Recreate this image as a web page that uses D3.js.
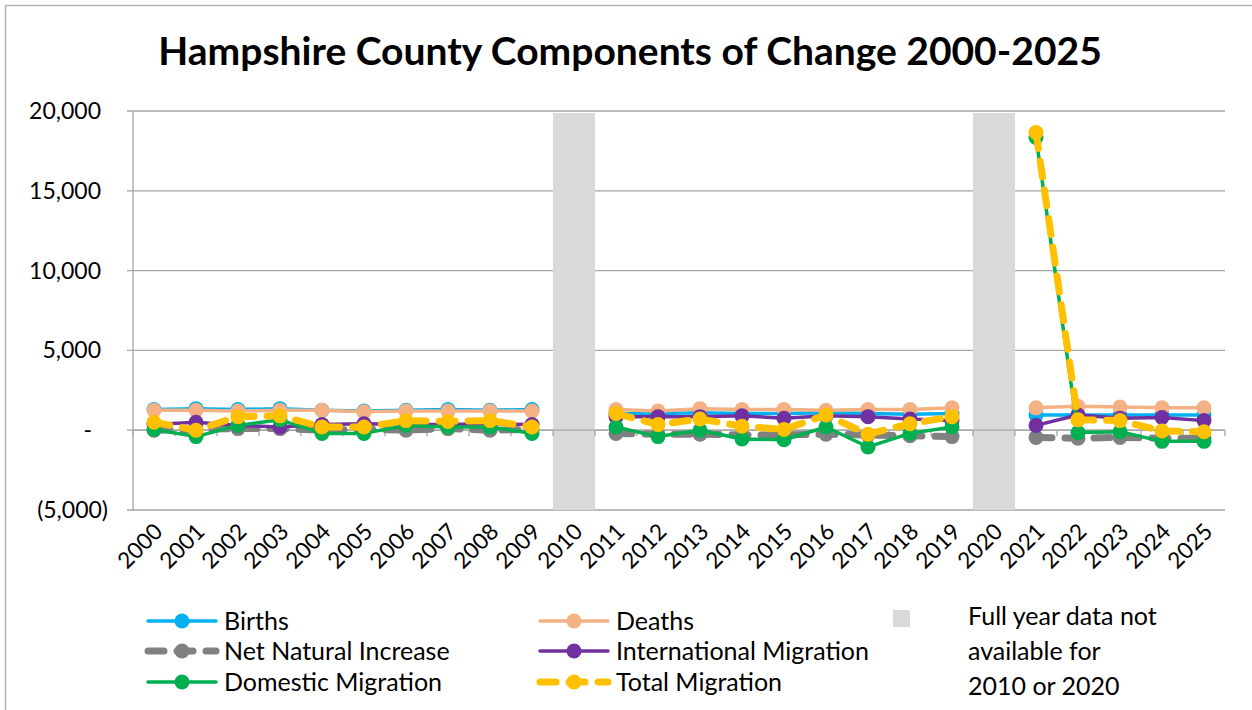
<!DOCTYPE html>
<html>
<head>
<meta charset="utf-8">
<script src="https://cdn.jsdelivr.net/npm/d3@7"></script>
<style>
  body { margin: 0; background: #fff; }
  svg { display: block; font-family: Lato, "Open Sans", sans-serif; }
</style>
</head>
<body>
<div id="chart"></div>
<script>
var years = [];
for (var yr = 2000; yr <= 2025; yr++) years.push(String(yr));

var births = [1300,1350,1300,1350,1250,1200,1250,1300,1250,1300,null,1050,1050,1100,1050,1050,1100,1050,1000,1050,null,950,950,950,950,950];
var deaths = [1250,1250,1200,1250,1250,1150,1200,1200,1200,1200,null,1300,1200,1350,1300,1300,1250,1300,1300,1400,null,1400,1500,1450,1400,1400];
var netNatural = [0,50,100,100,0,50,0,100,0,50,null,-200,-250,-250,-300,-300,-250,-300,-350,-400,null,-450,-500,-450,-500,-500];
var intlMig = [350,500,300,200,350,400,350,350,400,350,null,850,850,850,900,750,900,850,700,600,null,300,950,750,800,600];
var domMig = [50,-400,300,650,-200,-200,300,200,200,-200,null,200,-400,0,-550,-600,200,-1050,-200,200,null,18350,-150,-100,-700,-700];
var totalMig = [500,0,850,900,200,200,600,550,600,200,null,1050,350,700,250,50,950,-250,400,850,null,18650,650,600,-50,-100];

var missingYears = ['2010', '2020'];
var yTicks = [-5000, 0, 5000, 10000, 15000, 20000];
var noteLines = ['Full year data not', 'available for', '2010 or 2020'];

var series = [
  {name: 'Births', values: births, color: '#00B0F0', width: 3.5, dash: null},
  {name: 'Deaths', values: deaths, color: '#F4B183', width: 3.5, dash: null},
  {name: 'Net Natural Increase', values: netNatural, color: '#808080', width: 7, dash: '16,13'},
  {name: 'International Migration', values: intlMig, color: '#7030A0', width: 3.5, dash: null},
  {name: 'Domestic Migration', values: domMig, color: '#00B050', width: 3.5, dash: null},
  {name: 'Total Migration', values: totalMig, color: '#FFC000', width: 7, dash: '16,13'}
];

var W = 1252, H = 710;
var plotL = 133, plotR = 1225, plotT = 111, plotB = 510;
var gridCol = '#A6A6A6';

var svg = d3.select('#chart').append('svg')
    .attr('width', W)
    .attr('height', H);

// outer chart frame
svg.append('rect')
    .attr('x', 5.5).attr('y', 5.5)
    .attr('width', W + 20).attr('height', H + 20)
    .attr('fill', '#fff')
    .attr('stroke', '#B4B4B4')
    .attr('stroke-width', 1.5);

svg.append('text')
    .attr('x', 630)
    .attr('y', 65)
    .attr('text-anchor', 'middle')
    .attr('font-size', 39)
    .attr('font-weight', 'bold')
    .text('Hampshire County Components of Change 2000-2025');

var x = d3.scaleBand().domain(years).range([plotL, plotR]).padding(0);
var y = d3.scaleLinear().domain([-5000, 20000]).range([plotB, plotT]);

// gridlines
svg.append('g').selectAll('line')
    .data(yTicks)
    .join('line')
    .attr('x1', plotL - 6).attr('x2', plotR)
    .attr('y1', function(d) { return y(d); })
    .attr('y2', function(d) { return y(d); })
    .attr('stroke', gridCol)
    .attr('stroke-width', 1.3);

// grey bars for missing years
svg.append('g').selectAll('rect')
    .data(missingYears)
    .join('rect')
    .attr('x', function(d) { return x(d); })
    .attr('width', x.bandwidth())
    .attr('y', y(20000) + 2)
    .attr('height', y(-5000) - y(20000) - 2)
    .attr('fill', '#D9D9D9');

// y axis line
svg.append('line')
    .attr('x1', plotL).attr('x2', plotL)
    .attr('y1', plotT).attr('y2', plotB)
    .attr('stroke', gridCol).attr('stroke-width', 1.3);

// x ticks on the zero line
var xBounds = years.map(function(d) { return x(d); }).concat([plotR]);
svg.append('g').selectAll('line')
    .data(xBounds)
    .join('line')
    .attr('x1', function(d) { return d; })
    .attr('x2', function(d) { return d; })
    .attr('y1', y(0)).attr('y2', y(0) + 6)
    .attr('stroke', gridCol).attr('stroke-width', 1.3);

// zero line again above the bars
svg.append('line')
    .attr('x1', plotL).attr('x2', plotR)
    .attr('y1', y(0)).attr('y2', y(0))
    .attr('stroke', gridCol).attr('stroke-width', 1.3);

function fmtTick(d) {
    if (d === 0) return '-';
    var s = d3.format(',')(Math.abs(d));
    return d < 0 ? '(' + s + ')' : s;
}

svg.append('g').selectAll('text')
    .data(yTicks)
    .join('text')
    .attr('x', function(d) { return d < 0 ? 108 : (d === 0 ? 92 : 101); })
    .attr('y', function(d) { return y(d); })
    .attr('dy', '0.35em')
    .attr('text-anchor', 'end')
    .attr('font-size', 23)
    .text(fmtTick);

svg.append('g').selectAll('text')
    .data(years)
    .join('text')
    .attr('text-anchor', 'end')
    .attr('font-size', 22.5)
    .attr('transform', function(d) {
        return 'translate(' + (x(d) + x.bandwidth() / 2 + 10) + ',' + 533 + ') rotate(-45)';
    })
    .text(function(d) { return d; });

// series
var line = d3.line()
    .defined(function(d) { return d.v != null; })
    .x(function(d) { return x(d.year) + x.bandwidth() / 2; })
    .y(function(d) { return y(d.v); });

series.forEach(function(s) {
    var pts = years.map(function(yr, i) { return {year: yr, v: s.values[i]}; });
    var g = svg.append('g');
    g.append('path')
        .attr('d', line(pts))
        .attr('fill', 'none')
        .attr('stroke', s.color)
        .attr('stroke-width', s.width)
        .attr('stroke-linecap', 'round')
        .attr('stroke-linejoin', 'round')
        .attr('stroke-dasharray', s.dash);
    g.selectAll('circle')
        .data(pts.filter(function(d) { return d.v != null; }))
        .join('circle')
        .attr('cx', function(d) { return x(d.year) + x.bandwidth() / 2; })
        .attr('cy', function(d) { return y(d.v); })
        .attr('r', 7.5)
        .attr('fill', s.color);
});

// legend
var legX = [148, 540];
var legY = [621, 651, 682];
series.forEach(function(s, i) {
    var lx = legX[i % 2], ly = legY[Math.floor(i / 2)];
    var g = svg.append('g');
    g.append('line')
        .attr('x1', lx).attr('x2', lx + 68)
        .attr('y1', ly).attr('y2', ly)
        .attr('stroke', s.color)
        .attr('stroke-width', s.width)
        .attr('stroke-linecap', 'round')
        .attr('stroke-dasharray', s.dash);
    g.append('circle')
        .attr('cx', lx + 34).attr('cy', ly)
        .attr('r', 7.5)
        .attr('fill', s.color);
    g.append('text')
        .attr('x', lx + 76).attr('y', ly)
        .attr('dy', '0.35em')
        .attr('font-size', 25)
        .text(s.name);
});

svg.append('rect')
    .attr('x', 893).attr('y', 610)
    .attr('width', 17).attr('height', 17)
    .attr('fill', '#D9D9D9');

svg.append('g').selectAll('text')
    .data(noteLines)
    .join('text')
    .attr('x', 968)
    .attr('y', function(d, i) { return 616 + i * 35; })
    .attr('dy', '0.35em')
    .attr('font-size', 25)
    .text(function(d) { return d; });
</script>
</body>
</html>
